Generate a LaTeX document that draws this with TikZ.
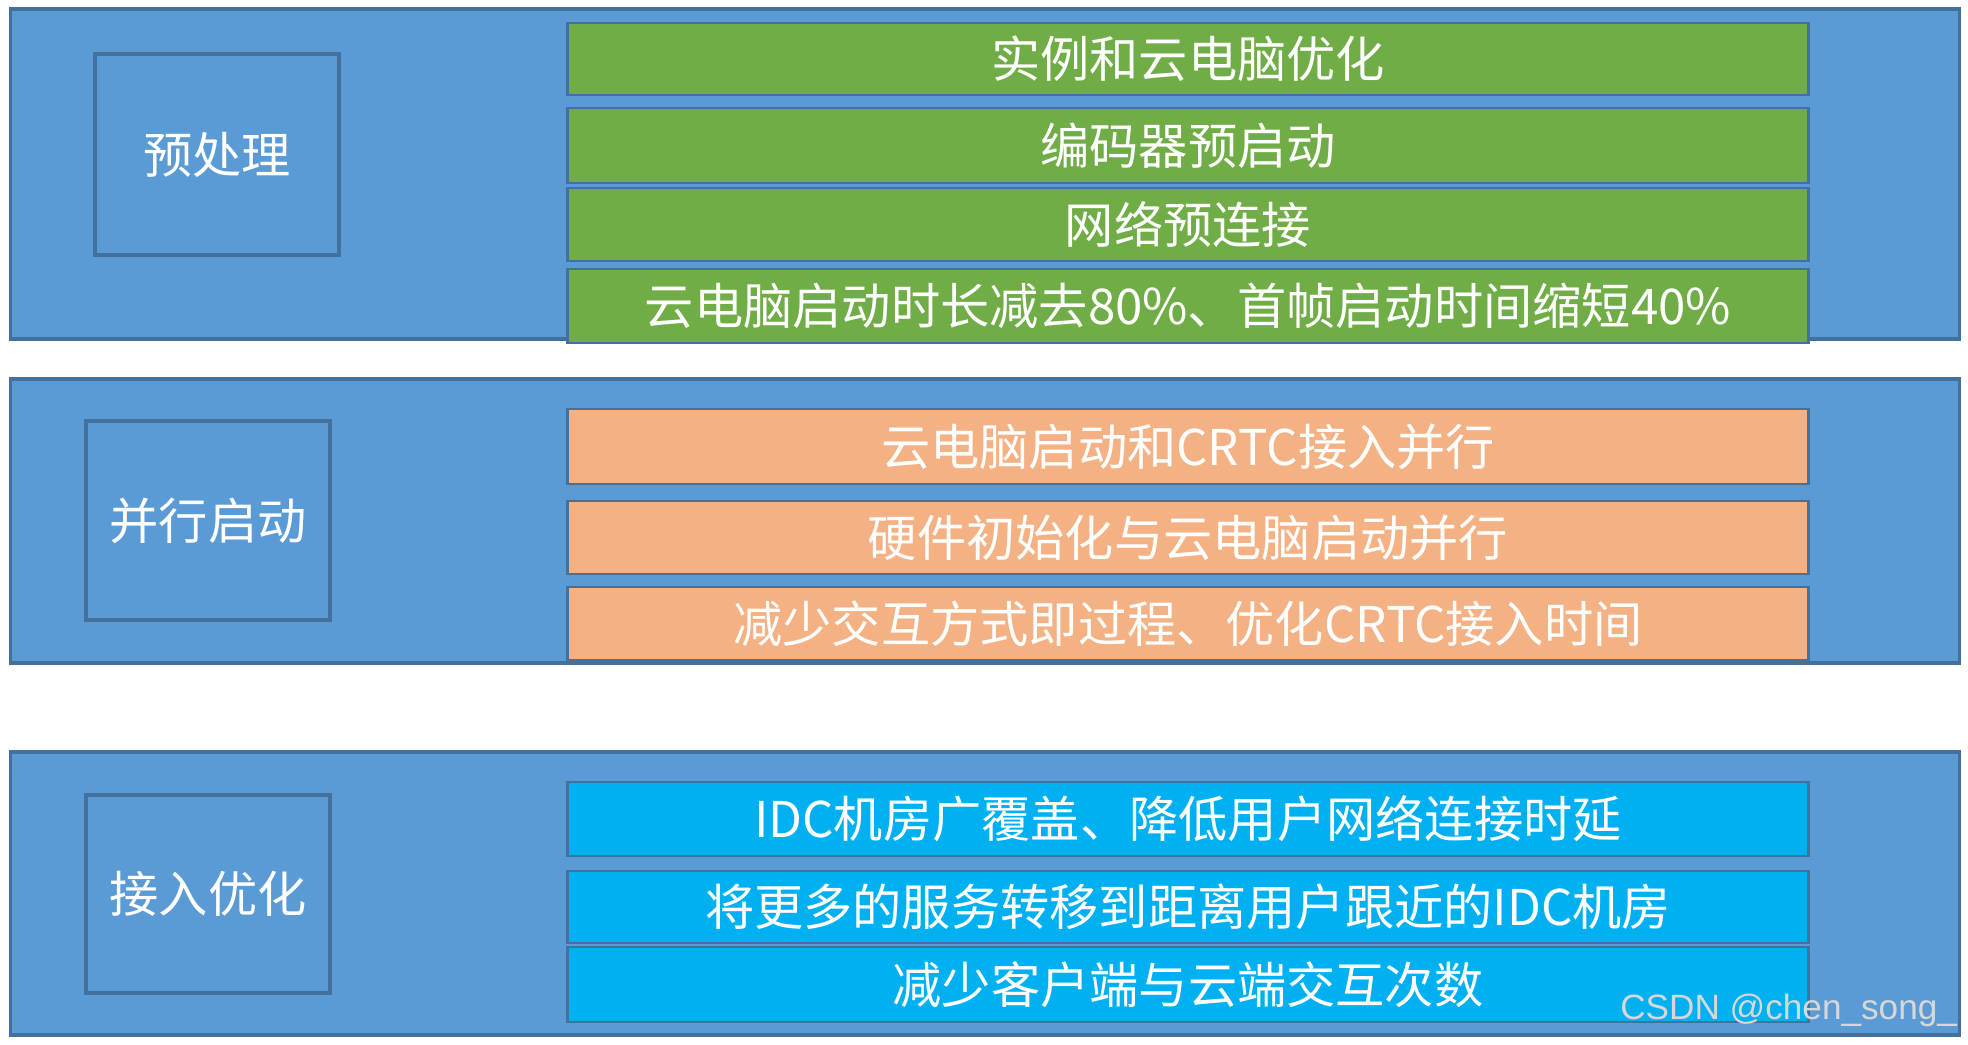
\documentclass[tikz,border=0pt]{standalone}
\usepackage{fontspec}
\setmainfont{Noto Sans CJK SC}
\newfontfamily\wmfont{Liberation Sans}
\definecolor{grpblue}{HTML}{5B9BD5}
\definecolor{lineblue}{HTML}{41719C}
\definecolor{stepgreen}{HTML}{70AD47}
\definecolor{steporange}{HTML}{F4B183}
\definecolor{stepcyan}{HTML}{00B0F0}

\begin{document}
\begin{tikzpicture}[x=0.01cm, y=-0.01cm,
    every node/.style={align=center, inner sep=0pt, outer sep=0pt, text=white, font=\fontsize{14pt}{16pt}\selectfont},
    grp/.style={draw=lineblue, line width=1pt, fill=grpblue, minimum width=19.48cm},
    lbl/.style={draw=lineblue, line width=1pt, fill=grpblue, minimum width=2.44cm},
    row/.style={draw=lineblue, line width=0.8pt, minimum width=12.40cm}]
      \useasboundingbox (0,0) rectangle (1968,1044);

      % Preprocessing
      \node (grp1) [grp, minimum height=3.30cm] at (985,174) {};
      \node (pre) [lbl, minimum height=2.01cm] at (217,154.5) {预处理};
      \node (pre1) [row, fill=stepgreen, minimum height=0.72cm] at (1188,59) {实例和云电脑优化};
      \node (pre2) [row, fill=stepgreen, minimum height=0.75cm] at (1188,145.5) {编码器预启动};
      \node (pre3) [row, fill=stepgreen, minimum height=0.73cm] at (1188,224.5) {网络预连接};
      \node (pre4) [row, fill=stepgreen, minimum height=0.74cm] at (1188,306) {云电脑启动时长减去80\%、首帧启动时间缩短40\%};

      % Parallel start
      \node (grp2) [grp, minimum height=2.84cm] at (985,521) {};
      \node (par) [lbl, minimum height=1.99cm] at (208,520.5) {并行启动};
      \node (par1) [row, fill=steporange, minimum height=0.75cm] at (1188,446.5) {云电脑启动和CRTC接入并行};
      \node (par2) [row, fill=steporange, minimum height=0.73cm] at (1188,537.5) {硬件初始化与云电脑启动并行};
      \node (par3) [row, fill=steporange, minimum height=0.73cm] at (1188,623.5) {减少交互方式即过程、优化CRTC接入时间};

      % Access optimisation
      \node (grp3) [grp, minimum height=2.83cm] at (985,893.5) {};
      \node (acc) [lbl, minimum height=1.98cm] at (208,894) {接入优化};
      \node (acc1) [row, fill=stepcyan, minimum height=0.74cm] at (1188,819) {IDC机房广覆盖、降低用户网络连接时延};
      \node (acc2) [row, fill=stepcyan, minimum height=0.72cm] at (1188,907) {将更多的服务转移到距离用户跟近的IDC机房};
      \node (acc3) [row, fill=stepcyan, minimum height=0.75cm] at (1188,984.5) {减少客户端与云端交互次数};

      % Watermark
      \node (mark) [text={rgb,255:red,215;green,215;blue,215}, font=\wmfont\fontsize{10pt}{12pt}\selectfont, anchor=east] at (1957,1010) {CSDN @chen\_song\_};
    \end{tikzpicture}
\end{document}
